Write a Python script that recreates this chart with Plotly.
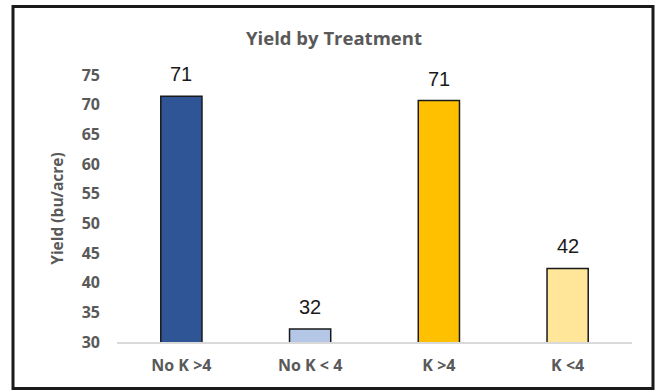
import plotly.graph_objects as go

categories = ["No K >4", "No K < 4", "K >4", "K <4"]
yields = [71.4, 32.2, 70.7, 42.4]
labels = ["71", "32", "71", "42"]
colors = ["#2F5597", "#B4C7E7", "#FFC000", "#FFE699"]
y_ticks = [30, 35, 40, 45, 50, 55, 60, 65, 70, 75]

W, H = 660, 391
L, R, T, B = 117, 28, 75, 49
pw = W - L - R
ph = H - T - B

fig = go.Figure()
fig.add_trace(go.Bar(
    x=categories, y=yields,
    marker=dict(color=colors, line=dict(color="#1a1a1a", width=1.5)),
    width=0.32, showlegend=False, hoverinfo="skip",
))

for c, v, t in zip(categories, yields, labels):
    fig.add_annotation(x=c, y=v, text=t, showarrow=False, yanchor="bottom",
                       yshift=9, font=dict(family="Liberation Sans, Arial", size=20, color="#1a1a1a"))

# outer frame
def px2x(p):
    return (p - L) / pw
def px2y(p):
    return (H - B - p) / ph

fig.add_shape(type="rect", xref="paper", yref="paper",
              x0=px2x(13), x1=px2x(653), y0=px2y(388.5), y1=px2y(6.5),
              line=dict(color="#1a1a1a", width=3), fillcolor="rgba(0,0,0,0)", layer="above")

fig.update_layout(
    width=W, height=H,
    margin=dict(l=L, r=R, t=T, b=B),
    paper_bgcolor="white", plot_bgcolor="white",
    title=dict(text="<b>Yield by Treatment</b>", x=334 / W, xanchor="center",
               y=1 - 39 / H, yanchor="middle",
               font=dict(family="Open Sans", size=18.5, color="#595959")),
    xaxis=dict(showline=True, linecolor="#d9d9d9", linewidth=1.5, showgrid=False,
               ticks="", ticklabelstandoff=8,
               tickfont=dict(family="Open Sans", size=16, color="#595959", weight="bold")),
    yaxis=dict(range=[30, 75], tickvals=y_ticks, showgrid=False, zeroline=False,
               showline=False, ticks="", ticklabelstandoff=16,
               tickfont=dict(family="Open Sans", size=16, color="#595959", weight="bold"),
               title=dict(text="<b>Yield (bu/acre)</b>", standoff=14,
                          font=dict(family="Open Sans", size=15.5, color="#595959"))),
    bargap=0.68,
)

fig.write_html("out.html")
